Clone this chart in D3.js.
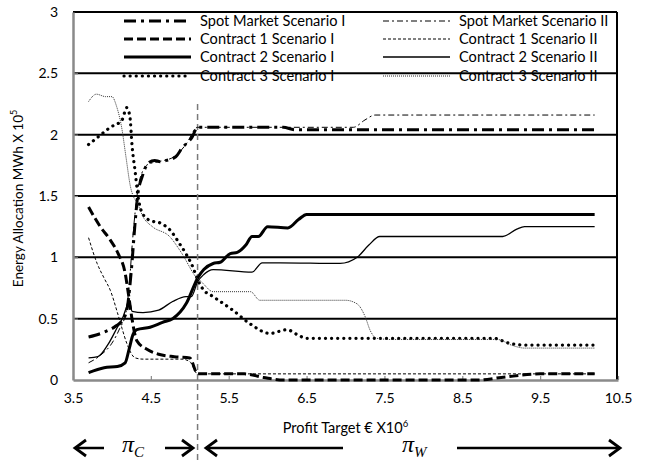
<!DOCTYPE html>
<html><head><meta charset="utf-8">
<script src="https://cdn.jsdelivr.net/npm/d3@7"></script>
<style>body{margin:0;background:#fff}svg{display:block}</style>
</head><body>
<svg id="c" width="646" height="464"></svg>
<script>
// ---- data ----
const xTicks = [3.5, 4.5, 5.5, 6.5, 7.5, 8.5, 9.5, 10.5];
const yTicks = [0, 0.5, 1, 1.5, 2, 2.5, 3];
const seriesNames = ["Spot Market Scenario I","Contract 1 Scenario I","Contract 2 Scenario I","Contract 3 Scenario I",
                     "Spot Market Scenario II","Contract 1 Scenario II","Contract 2 Scenario II","Contract 3 Scenario II"];
const spotS1 = [[3.7,0.35],[3.9,0.39],[4.05,0.44],[4.15,0.5],[4.2,0.6],[4.25,0.9],[4.3,1.3],[4.33,1.5],[4.39,1.66],[4.47,1.77],[4.55,1.79],[4.62,1.78],[4.7,1.79],[4.82,1.82],[4.9,1.89],[5.03,1.98],[5.1,2.06],[6.2,2.06],[6.35,2.04],[10.2,2.04]];
const spotS2 = [[3.7,0.14],[3.85,0.2],[4.0,0.3],[4.1,0.42],[4.18,0.55],[4.22,0.75],[4.26,1.1],[4.3,1.38],[4.34,1.58],[4.4,1.71],[4.47,1.76],[4.6,1.78],[4.8,1.82],[4.95,1.92],[5.1,2.06],[7.1,2.06],[7.25,2.12],[7.38,2.16],[10.2,2.16]];
const contract1S1 = [[3.7,1.41],[3.85,1.25],[3.98,1.14],[4.08,1.03],[4.17,0.87],[4.21,0.71],[4.26,0.49],[4.32,0.32],[4.45,0.25],[4.6,0.21],[4.8,0.19],[5.0,0.18],[5.1,0.05],[5.7,0.05],[5.95,0.02],[6.2,0.0],[8.7,0.0],[9.0,0.02],[9.5,0.05],[10.2,0.05]];
const contract1S2 = [[3.7,1.16],[3.81,0.95],[3.9,0.83],[3.98,0.73],[4.07,0.55],[4.13,0.42],[4.19,0.3],[4.3,0.18],[4.4,0.17],[4.9,0.17],[5.0,0.15],[5.1,0.05],[10.2,0.05]];
const contract2S1 = [[3.7,0.06],[3.9,0.1],[4.07,0.11],[4.17,0.14],[4.22,0.25],[4.27,0.37],[4.32,0.41],[4.49,0.43],[4.65,0.47],[4.78,0.5],[4.96,0.63],[5.1,0.83],[5.18,0.9],[5.3,0.95],[5.39,0.96],[5.52,1.03],[5.61,1.04],[5.72,1.1],[5.8,1.17],[5.88,1.17],[6.0,1.25],[6.26,1.24],[6.4,1.31],[6.5,1.35],[10.2,1.35]];
const contract2S2 = [[3.7,0.18],[3.82,0.19],[3.95,0.29],[4.07,0.43],[4.14,0.51],[4.19,0.6],[4.22,0.65],[4.26,0.56],[4.4,0.55],[4.6,0.57],[4.78,0.64],[4.95,0.68],[5.02,0.68],[5.1,0.8],[5.18,0.86],[5.3,0.9],[5.8,0.88],[5.93,0.955],[6.16,0.955],[6.93,0.95],[7.15,1.0],[7.3,1.1],[7.44,1.17],[7.7,1.17],[9.02,1.17],[9.2,1.23],[9.3,1.25],[10.2,1.25]];
const contract3S1 = [[3.7,1.92],[3.82,1.98],[3.98,2.06],[4.13,2.12],[4.19,2.22],[4.23,2.15],[4.26,1.9],[4.3,1.69],[4.33,1.52],[4.39,1.36],[4.49,1.3],[4.62,1.28],[4.75,1.22],[4.87,1.11],[4.95,1.03],[5.04,0.92],[5.1,0.82],[5.17,0.74],[5.3,0.68],[5.55,0.57],[5.77,0.46],[6.03,0.38],[6.25,0.41],[6.38,0.37],[6.5,0.34],[8.9,0.34],[9.1,0.3],[9.3,0.285],[10.2,0.285]];
const contract3S2 = [[3.7,2.27],[3.8,2.33],[3.92,2.31],[4.0,2.31],[4.06,2.23],[4.13,2.04],[4.18,1.82],[4.24,1.57],[4.28,1.49],[4.32,1.45],[4.4,1.33],[4.52,1.25],[4.74,1.17],[4.9,1.03],[5.08,0.84],[5.15,0.8],[5.3,0.72],[5.78,0.72],[5.9,0.65],[7.0,0.65],[7.15,0.62],[7.25,0.52],[7.32,0.4],[7.4,0.34],[7.6,0.33],[8.95,0.33],[9.15,0.28],[9.3,0.26],[10.2,0.26]];
const boundaryX = 5.1;

// ---- chart ----
const svg = d3.select("#c");
const font = "Lato, 'Open Sans', sans-serif";
const x = d3.scaleLinear().domain([3.5, 10.5]).range([73, 618]);
const y = d3.scaleLinear().domain([0, 3]).range([380, 12]);

// gridlines
svg.append("g").selectAll("line").data(yTicks.filter(d => d > 0)).join("line")
  .attr("x1", x(3.5)).attr("x2", x(10.5) - 1).attr("y1", d => y(d)).attr("y2", d => y(d))
  .attr("stroke", "#000").attr("stroke-width", 2);
// right border
svg.append("line").attr("x1", x(10.5) - 1).attr("x2", x(10.5) - 1).attr("y1", y(3)).attr("y2", y(0))
  .attr("stroke", "#000").attr("stroke-width", 2);

// axes
const gx = svg.append("g").attr("transform", `translate(0,${y(0)})`)
  .call(d3.axisBottom(x).tickValues(xTicks).tickFormat(d3.format(".1f")).tickSizeInner(-4).tickSizeOuter(0).tickPadding(13));
const gy = svg.append("g").attr("transform", `translate(${x(3.5)},0)`)
  .call(d3.axisLeft(y).tickValues(yTicks).tickFormat(d => String(d)).tickSizeInner(-5).tickSizeOuter(0).tickPadding(15));
[gx, gy].forEach(g => {
  g.select(".domain").attr("stroke", "#8a8a8a").attr("stroke-width", 2.5);
  g.selectAll(".tick line").attr("stroke", "#8a8a8a").attr("stroke-width", 1.2);
  g.selectAll("text").attr("font-family", font).attr("font-size", 14).attr("fill", "#000");
});
gy.selectAll(".tick").filter(d => d === 3 || d === 0).select("line").remove();

// vertical dashed boundary
svg.append("line").attr("x1", x(boundaryX)).attr("x2", x(boundaryX)).attr("y1", y(2.25)).attr("y2", 464)
  .attr("stroke", "#7a7a7a").attr("stroke-width", 1.5).attr("stroke-dasharray", "6,4");

// series styles
const styles = [
  {data: spotS1, w: 3, dash: "12,5,3,5", col: "#000", cap: "butt"},
  {data: contract1S1, w: 3, dash: "9,4", col: "#000", cap: "butt"},
  {data: contract2S1, w: 3, dash: null, col: "#000", cap: "butt"},
  {data: contract3S1, w: 3.2, dash: "0.1,6", col: "#000", cap: "round"},
  {data: spotS2, w: 1, dash: "6,3,2,3", col: "#000", cap: "butt"},
  {data: contract1S2, w: 1, dash: "3,2", col: "#000", cap: "butt"},
  {data: contract2S2, w: 1.3, dash: null, col: "#000", cap: "butt"},
  {data: contract3S2, w: 1, dash: "1,1", col: "#333", cap: "butt"}
];
const line = d3.line().x(d => x(d[0])).y(d => y(d[1])).curve(d3.curveMonotoneX);
svg.append("g").selectAll("path").data(styles).join("path")
  .attr("d", s => line(s.data)).attr("fill", "none")
  .attr("stroke", s => s.col).attr("stroke-width", s => s.w)
  .attr("stroke-dasharray", s => s.dash).attr("stroke-linecap", s => s.cap);

// legend
const rowsY = [21, 39, 57, 76];
const leg = svg.append("g");
styles.forEach((s, i) => {
  const col = i < 4 ? 0 : 1, r = i % 4;
  const x0 = col === 0 ? 124 : 383, x1 = col === 0 ? 191 : 450, tx = col === 0 ? 200 : 459;
  leg.append("line").attr("x1", x0).attr("x2", x1).attr("y1", rowsY[r]).attr("y2", rowsY[r])
    .attr("stroke", s.col).attr("stroke-width", s.w).attr("stroke-dasharray", s.dash).attr("stroke-linecap", s.cap);
  leg.append("text").attr("x", tx).attr("y", rowsY[r] + 5).text(seriesNames[i])
    .attr("font-family", font).attr("font-size", 14.6).attr("fill", "#000");
});

// axis titles
const xt = svg.append("text").attr("x", x(7)).attr("y", 433).attr("text-anchor", "middle")
  .attr("font-family", font).attr("font-size", 14.5).attr("fill", "#000");
xt.append("tspan").text("Profit Target € X10");
xt.append("tspan").attr("dy", -6).attr("font-size", 9.5).text("6");
const yt = svg.append("text").attr("transform", `translate(23,${y(1.48)}) rotate(-90)`).attr("text-anchor", "middle")
  .attr("font-family", font).attr("font-size", 13.5).attr("fill", "#000");
yt.append("tspan").text("Energy Allocation MWh X 10");
yt.append("tspan").attr("dy", -6).attr("font-size", 9).text("5");

// bottom arrows & pi labels
const ay = 448;
function arrow(xa, xb, headAtStart) {
  svg.append("line").attr("x1", xa).attr("x2", xb).attr("y1", ay).attr("y2", ay)
    .attr("stroke", "#000").attr("stroke-width", 2.5);
  const hx = headAtStart ? xa : xb, dir = headAtStart ? 1 : -1;
  svg.append("path").attr("d", `M${hx + dir * 11},${ay - 8}L${hx},${ay}L${hx + dir * 11},${ay + 8}`)
    .attr("fill", "none").attr("stroke", "#000").attr("stroke-width", 2.8);
}
arrow(75, 104, true);
arrow(165, 193, false);
arrow(206, 343, true);
arrow(457, 620, false);
function piLabel(px, sub) {
  const t = svg.append("text").attr("x", px).attr("y", 452).attr("font-family", "'Liberation Serif', 'DejaVu Serif', serif")
    .attr("font-style", "italic").attr("font-size", 24).attr("fill", "#000");
  t.append("tspan").text("π");
  t.append("tspan").attr("dy", 5).attr("font-size", 15).text(sub);
}
piLabel(122, "C");
piLabel(402, "W");
</script>
</body></html>
